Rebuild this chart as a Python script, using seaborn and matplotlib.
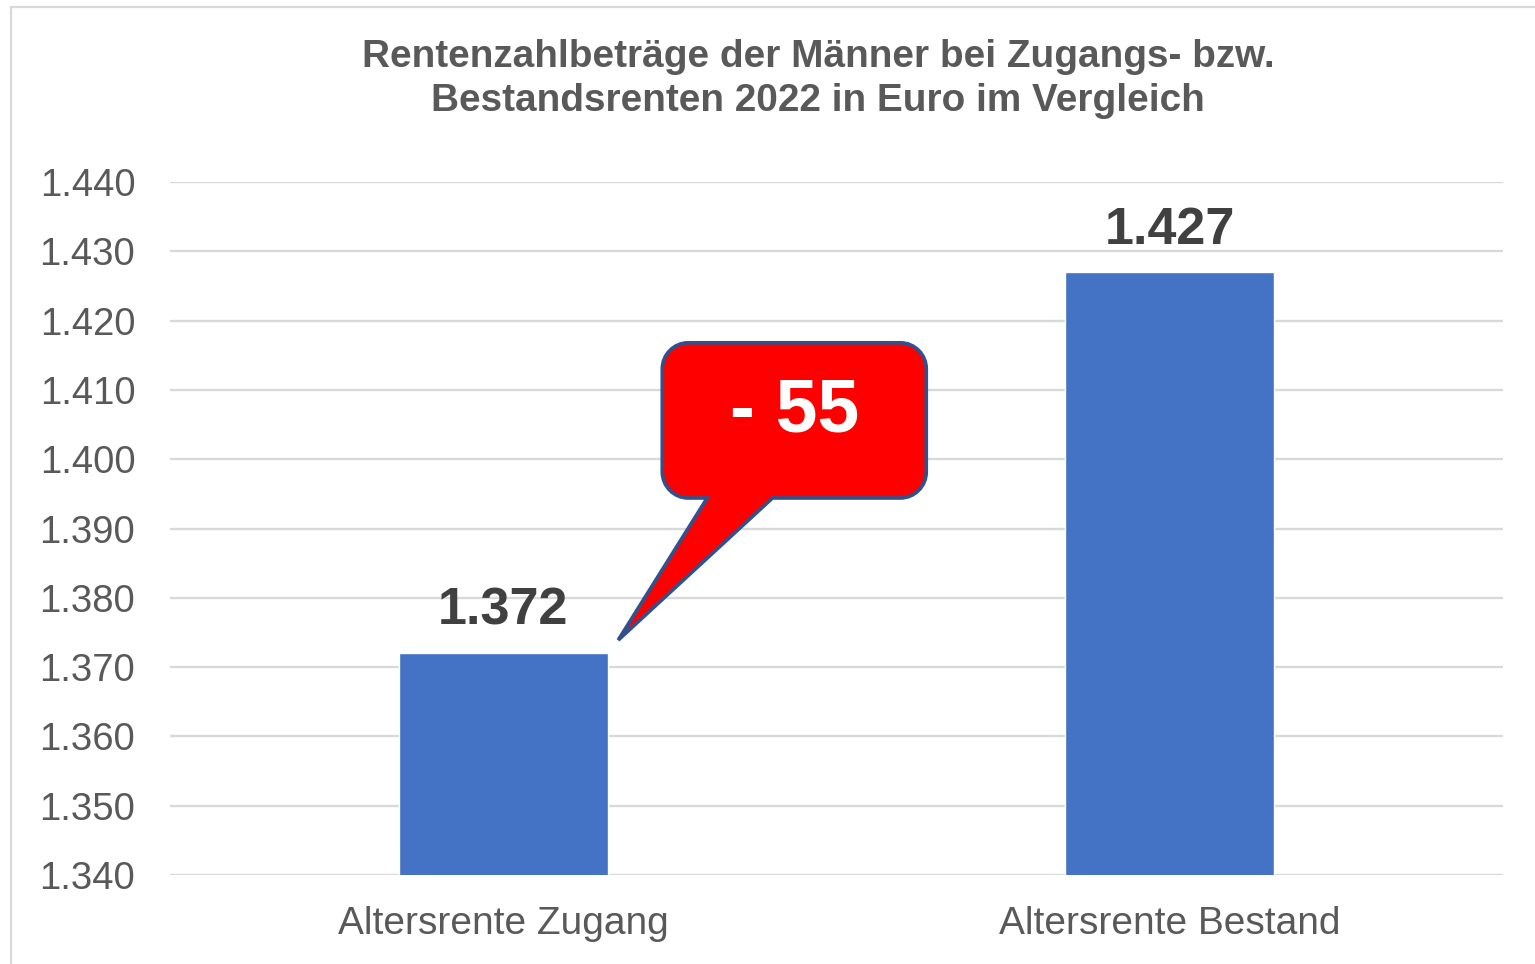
import numpy as np
import pandas as pd
import matplotlib
matplotlib.use("Agg")
import matplotlib.pyplot as plt
import seaborn as sns
from matplotlib.path import Path
from matplotlib.patches import PathPatch
from matplotlib.lines import Line2D
from matplotlib.ticker import FuncFormatter, MultipleLocator

# ----- Daten -----
categories = ["Altersrente Zugang", "Altersrente Bestand"]
values = [1372, 1427]
title = "Rentenzahlbeträge der Männer bei Zugangs- bzw.\nBestandsrenten 2022 in Euro im Vergleich"


def de_fmt(v):
    return f"{v:,.0f}".replace(",", ".")


def main():
    sns.set_theme(style="white")
    plt.rcParams["font.family"] = ["Liberation Sans", "DejaVu Sans"]

    df = pd.DataFrame({"kategorie": categories, "wert": values})

    fig = plt.figure(figsize=(15.35, 9.64), dpi=100)
    W, H = 1535, 964
    ax = fig.add_axes([170 / W, 1 - 875 / H, (1503 - 170) / W, (875 - 182) / H])

    sns.barplot(data=df, x="kategorie", y="wert", color="#4472C4", saturation=1,
                width=0.314, ax=ax)
    ax.set_xlim(-0.5, 1.5)
    ax.set_ylim(1340, 1440)
    ax.yaxis.set_major_locator(MultipleLocator(10))
    ax.yaxis.set_major_formatter(FuncFormatter(lambda v, p: de_fmt(v)))
    ax.grid(axis="y", color="#D9D9D9", linewidth=1.7)
    ax.set_axisbelow(True)
    for s in ax.spines.values():
        s.set_visible(False)
    ax.set_xlabel("")
    ax.set_ylabel("")
    ax.tick_params(axis="y", length=0, pad=25, labelsize=27.5, labelcolor="#595959")
    ax.tick_params(axis="x", length=0, pad=22, labelsize=28, labelcolor="#595959")

    # Wertbeschriftungen
    for i, v in enumerate(values):
        ax.text(i, v + 2.5, de_fmt(v), ha="center", va="bottom", fontsize=37.5,
                fontweight="bold", color="#404040")

    # Titel
    fig.text(818 / W, 1 - 79 / H, title, ha="center", va="center", fontsize=27.9,
             fontweight="bold", color="#595959", linespacing=1.3)

    # ----- Sprechblase mit Differenz -----
    fig.canvas.draw()
    to_px = ax.transData.transform
    tip = to_px((0.1725, values[0] + 1.9))
    (bx0, by0) = to_px((0.2386, 1394.4))
    (bx1, by1) = to_px((0.6347, 1416.8))
    base_l = to_px((0.306, 0))[0]
    base_r = to_px((0.404, 0))[0]
    r = 26
    k = 0.5523 * r
    verts = [
        (base_l, by0), (bx0 + r, by0),
        (bx0 + r - k, by0), (bx0, by0 + r - k), (bx0, by0 + r),
        (bx0, by1 - r),
        (bx0, by1 - r + k), (bx0 + r - k, by1), (bx0 + r, by1),
        (bx1 - r, by1),
        (bx1 - r + k, by1), (bx1, by1 - r + k), (bx1, by1 - r),
        (bx1, by0 + r),
        (bx1, by0 + r - k), (bx1 - r + k, by0), (bx1 - r, by0),
        (base_r, by0), (tip[0], tip[1]), (base_l, by0),
    ]
    codes = [Path.MOVETO, Path.LINETO,
             Path.CURVE4, Path.CURVE4, Path.CURVE4,
             Path.LINETO,
             Path.CURVE4, Path.CURVE4, Path.CURVE4,
             Path.LINETO,
             Path.CURVE4, Path.CURVE4, Path.CURVE4,
             Path.LINETO,
             Path.CURVE4, Path.CURVE4, Path.CURVE4,
             Path.LINETO, Path.LINETO, Path.CLOSEPOLY]
    bubble = PathPatch(Path(verts, codes), facecolor="#FF0000", edgecolor="#2F528F",
                       linewidth=2.6, transform=None, zorder=5, joinstyle="miter")
    bubble.set_clip_on(False)
    fig.patches.append(bubble)
    diff = values[1] - values[0]
    fig.text((bx0 + bx1) / 2 / W, 1 - 412 / H, f"- {diff}", ha="center",
             va="center", fontsize=54, fontweight="bold", color="white", zorder=6)

    # Rahmen (angeschnitten)
    fig.add_artist(Line2D([11 / W, 11 / W], [0, 1 - 7 / H], color="#D9D9D9", linewidth=1.6))
    fig.add_artist(Line2D([11 / W, 1], [1 - 7 / H, 1 - 7 / H], color="#D9D9D9", linewidth=1.6))

    fig.savefig("out.png", dpi=100)


if __name__ == "__main__":
    main()
